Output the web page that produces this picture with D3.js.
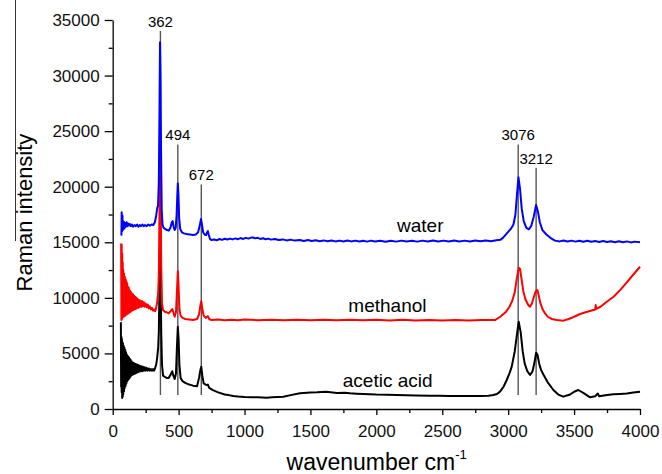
<!DOCTYPE html>
<html>
<head>
<meta charset="utf-8">
<script src="https://cdnjs.cloudflare.com/ajax/libs/d3/7.8.5/d3.min.js"></script>
<style>
    body { margin: 0; background: #fff; }
    text { font-family: "Liberation Sans", Arial, sans-serif; }
</style>
</head>
<body>
<div id="chart-area"></div>
<script>
// Raman spectra of water, methanol and acetic acid (offset traces)

// [wavenumber, intensity]
const water = [
    [66,15600],[68,17700],[71,16000],[74,17400],[77,16100],[80,16900],[84,16200],[88,16800],
    [92,16300],[96,16700],[100,16400],[105,16800],[110,16450],[116,16700],[122,16500],[130,16650],
    [138,16450],[146,16600],[155,16400],[165,16550],[175,16450],[185,16600],[195,16400],[205,16550],
    [215,16450],[225,16600],[235,16450],[245,16550],[258,16450],[270,16600],[282,16500],[295,16600],
    [308,16550],[320,16800],[330,17400],[338,18100],[344,18300],[350,20500],[355,27000],[359,33000],
    [363,30000],[367,23000],[372,17800],[378,16600],[386,16300],[398,16200],[412,16100],[425,16050],
    [438,16300],[448,16800],[455,16900],[462,16400],[470,16100],[478,16300],[485,17500],[490,19200],
    [494,20300],[499,19200],[504,17200],[512,16200],[525,15900],[540,15800],[560,15750],[585,15700],
    [610,15650],[630,15700],[648,15900],[660,16500],[670,17100],[677,16600],[686,15900],[697,15700],
    [708,15650],[716,15900],[722,16000],[728,15700],[738,15300],[750,15200],[770,15250],[790,15180],
    [810,15300],[830,15220],[850,15320],[870,15250],[890,15330],[910,15260],[930,15350],[950,15280],
    [970,15380],[990,15300],[1010,15400],[1030,15330],[1050,15420],[1065,15430],[1080,15350],[1100,15400],
    [1120,15300],[1140,15360],[1160,15270],[1180,15330],[1200,15240],[1230,15300],[1260,15200],[1290,15260],
    [1320,15170],[1350,15240],[1380,15150],[1420,15200],[1450,15120],[1480,15200],[1510,15110],[1540,15180],
    [1570,15100],[1600,15170],[1630,15090],[1660,15160],[1690,15080],[1720,15150],[1750,15070],[1780,15160],
    [1810,15080],[1840,15150],[1870,15070],[1900,15140],[1930,15060],[1960,15150],[1990,15070],[2030,15130],
    [2070,15050],[2110,15140],[2150,15060],[2190,15150],[2230,15070],[2270,15140],[2310,15060],[2350,15150],
    [2390,15070],[2430,15160],[2470,15080],[2510,15150],[2550,15070],[2590,15160],[2630,15080],[2670,15150],
    [2710,15080],[2750,15160],[2790,15090],[2830,15170],[2870,15100],[2910,15180],[2940,15220],[2960,15400],
    [2990,15800],[3020,16200],[3040,16600],[3055,17500],[3066,19200],[3078,20850],[3090,19800],[3103,18000],
    [3118,16900],[3138,16300],[3158,16170],[3176,16500],[3194,17300],[3212,18350],[3225,17800],[3240,16800],
    [3260,16100],[3290,15700],[3320,15400],[3355,15150],[3390,15080],[3420,15160],[3450,15070],[3480,15150],
    [3510,15060],[3540,15140],[3570,15050],[3600,15130],[3630,15040],[3660,15120],[3690,15030],[3720,15110],
    [3750,15020],[3780,15100],[3810,15010],[3840,15090],[3870,15000],[3900,15080],[3930,14990],[3960,15060],
    [4000,15000]
];

const methanol = [
    [64,14900],[66,8000],[68,14800],[70,8100],[72,14000],[74,8200],[76,13200],[78,8300],[80,12500],
    [83,8300],[86,12200],[89,8400],[92,11900],[95,8400],[98,11700],[101,8500],[104,11500],[107,8500],
    [110,11300],[113,8600],[116,11000],[119,8600],[122,10900],[125,8700],[128,10700],[131,8700],[134,10600],
    [137,8800],[140,10500],[143,8800],[146,10400],[150,8900],[154,10300],[158,8900],[162,10200],[166,9000],
    [170,10100],[175,9000],[180,10000],[185,9100],[190,9900],[195,9100],[200,9800],[206,9200],[212,9750],
    [218,9200],[224,9700],[230,9250],[236,9600],[243,9200],[250,9500],[258,9150],[266,9400],[274,9050],
    [282,9250],[290,8950],[298,9100],[306,8850],[314,8950],[322,8800],[330,9100],[338,9700],[345,10500],
    [350,12000],[355,18000],[360,24000],[364,20000],[368,13000],[374,9500],[382,8900],[395,8750],[410,8700],
    [425,8600],[440,8800],[452,9000],[460,8700],[470,8300],[480,8700],[487,10500],[494,12400],[500,11000],
    [506,9000],[515,8400],[530,8200],[550,8100],[580,8050],[610,8000],[640,8100],[655,8500],[665,9300],
    [672,9700],[680,9000],[690,8400],[705,8200],[715,8300],[722,8350],[732,8100],[750,8000],[800,8050],
    [850,7980],[900,8040],[950,7990],[1000,8050],[1100,7990],[1200,8040],[1300,7990],[1400,8030],[1500,7980],
    [1600,8030],[1700,7980],[1800,8020],[1900,7980],[2000,8020],[2100,7970],[2200,8020],[2300,7970],[2400,8010],
    [2500,7970],[2600,8010],[2700,7970],[2800,8000],[2900,8000],[2940,8300],[2980,8700],[3010,9200],
    [3030,9700],[3050,10500],[3065,11700],[3080,12700],[3090,12600],[3100,11800],[3115,10600],[3130,9900],
    [3150,9400],[3165,9200],[3180,9500],[3195,10100],[3210,10600],[3222,10700],[3232,10200],[3245,9500],
    [3260,9000],[3280,8600],[3300,8300],[3330,8100],[3370,8000],[3420,7950],[3460,8100],[3500,8300],
    [3545,8550],[3600,8750],[3646,8900],[3660,8950],[3664,9350],[3668,9000],[3700,9200],[3748,9650],
    [3800,10100],[3849,10700],[3900,11400],[3950,12100],[4000,12800]
];

const aceticAcid = [
    [62,7800],[64,2000],[66,6500],[68,1500],[70,6300],[72,1000],[74,6000],[76,1100],[78,5900],[80,1300],
    [83,5700],[86,1600],[89,5500],[92,1900],[95,5300],[98,2100],[101,5100],[104,2300],[107,4900],[110,2500],
    [113,4800],[116,2600],[119,4700],[122,2700],[125,4600],[128,2800],[131,4500],[134,2900],[137,4400],
    [140,3000],[143,4300],[146,3050],[150,4200],[154,3100],[158,4150],[162,3150],[166,4100],[170,3200],
    [175,4050],[180,3250],[185,4000],[190,3300],[195,3950],[200,3350],[206,3900],[212,3400],[218,3850],
    [224,3400],[230,3800],[236,3450],[243,3750],[250,3450],[258,3700],[266,3450],[274,3650],[282,3450],
    [290,3600],[298,3450],[306,3600],[314,3450],[322,3700],[330,4000],[338,4700],[345,5500],[350,7000],
    [355,11000],[360,15000],[364,12000],[368,7000],[374,4000],[382,3000],[395,2900],[410,2800],[425,2800],
    [440,3100],[452,3400],[460,3000],[470,2700],[480,3200],[487,5500],[494,7400],[500,6300],[506,4000],
    [515,2800],[530,2500],[550,2350],[580,2200],[610,2100],[640,2050],[655,2800],[665,3500],[672,3800],
    [680,3000],[690,2300],[705,2200],[715,2150],[722,2200],[732,1900],[760,1700],[800,1500],[850,1300],
    [880,1250],[915,1170],[950,1120],[1000,1080],[1050,1060],[1100,1050],[1168,1020],[1210,1060],[1250,1080],
    [1294,1110],[1350,1250],[1420,1410],[1500,1480],[1550,1500],[1620,1550],[1700,1450],[1760,1470],
    [1800,1420],[1850,1380],[1900,1350],[2000,1300],[2080,1290],[2154,1260],[2230,1240],[2300,1220],
    [2407,1200],[2480,1190],[2550,1180],[2620,1175],[2700,1170],[2786,1170],[2850,1200],[2887,1260],
    [2915,1350],[2938,1560],[2965,2000],[2989,2610],[3010,3200],[3027,3810],[3050,5200],[3070,7000],
    [3080,7860],[3095,6900],[3110,5200],[3125,4110],[3145,3400],[3166,3060],[3185,3400],[3200,4200],
    [3212,5070],[3222,4900],[3235,4100],[3250,3500],[3267,3100],[3300,2400],[3343,1710],[3380,1300],
    [3418,1110],[3470,1300],[3500,1550],[3532,1710],[3570,1450],[3621,1050],[3660,1150],[3680,1400],
    [3690,1150],[3750,1250],[3798,1320],[3850,1360],[3900,1400],[3950,1480],[4000,1560]
];

// peak markers: wavenumber and height of marker line top
const peaks = [362, 494, 672, 3076, 3212];
const peakTops = [34000, 23800, 20200, 23800, 21700];
const peakBottom = 1260;

// series names with label anchor [wavenumber, intensity]
const seriesNames = ["acetic acid", "methanol", "water"];
const seriesColors = ["#000000", "#ff0000", "#0000ff"];
const labelAnchors = [[2086, 2010], [2084, 8760], [2333, 15960]];

const xTicks = [0, 500, 1000, 1500, 2000, 2500, 3000, 3500, 4000];
const xMinor = [250, 750, 1250, 1750, 2250, 2750, 3250, 3750];
const yTicks = [0, 5000, 10000, 15000, 20000, 25000, 30000, 35000];
const yMinor = [2500, 7500, 12500, 17500, 22500, 27500, 32500];

const margin = {left:112.7, right:22, top:20, bottom:65};
const width = 662 - margin.left - margin.right,
      height = 474 - margin.top - margin.bottom;

const svg = d3.select("#chart-area")
    .append("svg")
        .attr("width", 662)
        .attr("height", 474);

// thin border remnant at the far left of the figure
svg.append("line")
    .attr("x1", 15.5).attr("x2", 15.5)
    .attr("y1", 0).attr("y2", 241)
    .attr("stroke", "#333")
    .attr("stroke-width", 1);

const g = svg.append("g")
    .attr("transform", "translate(" + margin.left + ", " + margin.top + ")");

//Scales
const x = d3.scaleLinear().domain([0, 4000]).range([0, width]);
const y = d3.scaleLinear().domain([0, 35000]).range([height, 0]);

// X AXIS
const xAxisCall = d3.axisBottom(x)
    .tickValues(xTicks)
    .tickSize(6)
    .tickSizeOuter(0)
    .tickPadding(10)
    .tickFormat(function(d){ return d; });
const xAxis = g.append("g")
    .attr("class", "x axis")
    .attr("transform", "translate(0," + height + ")")
    .call(xAxisCall);

g.append("g")
    .attr("transform", "translate(0," + height + ")")
    .call(d3.axisBottom(x).tickValues(xMinor).tickSize(4).tickFormat(""))
    .call(function(s){ s.select(".domain").remove(); });

// Y AXIS
const yAxisCall = d3.axisLeft(y)
    .tickValues(yTicks)
    .tickSize(8)
    .tickSizeOuter(0)
    .tickPadding(5)
    .tickFormat(function(d){ return d; });
const yAxis = g.append("g")
    .attr("class", "y axis")
    .call(yAxisCall);

g.append("g")
    .call(d3.axisLeft(y).tickValues(yMinor).tickSize(4).tickFormat(""))
    .call(function(s){ s.select(".domain").remove(); });

g.selectAll(".axis text")
    .attr("font-size", "17px")
    .attr("fill", "#111")
    .style("font-family", "'Liberation Sans', Arial, sans-serif");
g.selectAll(".domain, .tick line")
    .attr("stroke", "#000")
    .attr("stroke-width", 1.3);

//LABELS
g.append("text")
    .attr("x", 264)
    .attr("y", 450)
    .attr("font-size", "23px")
    .attr("text-anchor", "middle")
    .text("wavenumber cm")
    .append("tspan")
        .attr("font-size", "13px")
        .attr("dy", -11)
        .text("-1");

g.append("text")
    .attr("transform", "rotate(-90)")
    .attr("x", -192.5)
    .attr("y", -81)
    .attr("font-size", "22px")
    .attr("text-anchor", "middle")
    .text("Raman intensity");

// peak marker lines
g.selectAll(".peak-line")
    .data(peaks)
    .enter()
    .append("line")
        .attr("class", "peak-line")
        .attr("x1", function(d){ return x(d); })
        .attr("x2", function(d){ return x(d); })
        .attr("y1", function(d, i){ return y(peakTops[i]); })
        .attr("y2", y(peakBottom))
        .attr("stroke", "#555")
        .attr("stroke-width", 1.4);

// spectra
const line = d3.line()
    .x(function(d){ return x(d[0]); })
    .y(function(d){ return y(d[1]); });

g.selectAll(".spectrum")
    .data([aceticAcid, methanol, water])
    .enter()
    .append("path")
        .attr("class", "spectrum")
        .attr("d", line)
        .attr("fill", "none")
        .attr("stroke", function(d, i){ return seriesColors[i]; })
        .attr("stroke-width", 2)
        .attr("stroke-linejoin", "round");

// peak labels
g.selectAll(".peak-label")
    .data(peaks)
    .enter()
    .append("text")
        .attr("class", "peak-label")
        .attr("x", function(d){ return x(d); })
        .attr("y", function(d, i){ return y(peakTops[i]) - 4; })
        .attr("font-size", "15px")
        .attr("text-anchor", "middle")
        .text(function(d){ return d; });

// series names
g.selectAll(".series-label")
    .data(seriesNames)
    .enter()
    .append("text")
        .attr("class", "series-label")
        .attr("x", function(d, i){ return x(labelAnchors[i][0]); })
        .attr("y", function(d, i){ return y(labelAnchors[i][1]); })
        .attr("font-size", "19px")
        .attr("text-anchor", "middle")
        .text(function(d){ return d; });
</script>
</body>
</html>
